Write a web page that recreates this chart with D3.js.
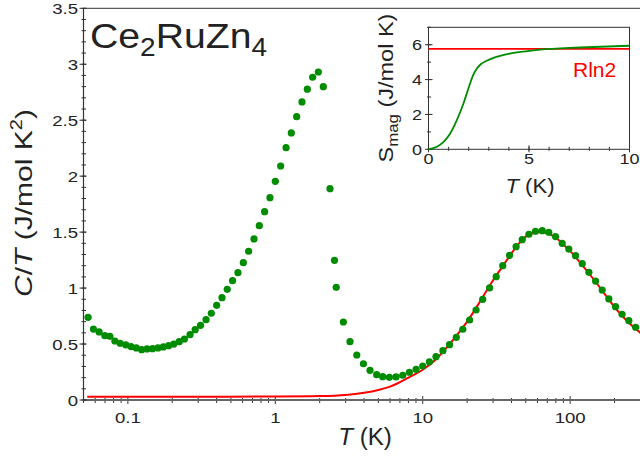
<!DOCTYPE html>
<html><head><meta charset="utf-8">
<script src="https://cdn.jsdelivr.net/npm/d3@7"></script>
<style>
html,body{margin:0;padding:0;background:#fff;}
svg{display:block;}
text{font-family:"Liberation Sans",Arial,Helvetica,sans-serif;fill:#222;}
</style></head>
<body>
<svg id="chart" width="640" height="457"></svg>
<script>
// ---- data ----
const dataT = [0.0537,0.0584,0.0638,0.0698,0.0755,0.0816,0.0887,0.0969,0.105,0.114,0.124,0.135,0.147,0.160,0.174,0.189,0.205,0.223,0.242,0.264,0.286,0.311,0.339,0.368,0.400,0.435,0.472,0.513,0.558,0.607,0.659,0.717,0.779,0.846,0.920,1.0,1.087,1.183,1.284,1.396,1.517,1.649,1.792,1.958,2.117,2.35,2.52,2.59,2.894,3.21,3.57,3.96,4.39,4.87,5.35,5.94,6.59,7.32,8.12,9.02,10.0,11.1,12.3,13.7,15.2,16.9,18.7,20.8,23.0,25.5,28.4,31.5,34.9,38.8,43.0,47.3,52.5,58.2,64.7,71.6,79.6,88.3,97.9,108.8,120.8,134,148.7,165,183,203,225,250,278];
const dataCT = [0.739,0.634,0.608,0.575,0.569,0.527,0.507,0.492,0.477,0.465,0.450,0.456,0.459,0.465,0.474,0.485,0.500,0.521,0.545,0.584,0.628,0.667,0.718,0.775,0.846,0.914,0.989,1.066,1.138,1.227,1.329,1.439,1.558,1.683,1.808,1.954,2.091,2.255,2.386,2.532,2.663,2.777,2.884,2.931,2.800,1.888,1.248,1.007,0.697,0.521,0.402,0.324,0.265,0.226,0.208,0.203,0.206,0.221,0.248,0.274,0.304,0.342,0.387,0.441,0.494,0.560,0.632,0.715,0.804,0.900,1.001,1.102,1.200,1.293,1.370,1.433,1.481,1.508,1.513,1.499,1.460,1.400,1.349,1.290,1.218,1.141,1.063,0.983,0.903,0.834,0.766,0.709,0.650];
const fitT  = [0.053,0.1,0.5,1,2,3,4,5,6,8,10,12,15,18,20,25,30,35,40,45,50,55,60,65,70,80,90,100,120,150,180,200,250,300];
const fitCT = [0.030,0.030,0.030,0.031,0.035,0.045,0.065,0.090,0.120,0.200,0.270,0.350,0.490,0.620,0.700,0.900,1.070,1.200,1.310,1.400,1.460,1.490,1.500,1.500,1.490,1.450,1.390,1.330,1.210,1.050,0.910,0.830,0.690,0.600];
const insetT = [0,0.42,0.75,1.08,1.41,1.74,1.99,2.2,2.4,2.6,2.9,3.3,3.8,4.4,5.2,6.0,7.0,8.2,10];
const insetS = [0,0.15,0.43,0.91,1.67,2.63,3.50,4.20,4.62,4.88,5.08,5.27,5.43,5.56,5.67,5.76,5.82,5.87,5.94];
const Rln2 = 5.76;
const xTickVals = [0.1,1,10,100];
const xTickLabels = ["0.1","1","10","100"];
const yTickVals = [0,0.5,1,1.5,2,2.5,3,3.5];
const yTickLabels = ["0","0.5","1","1.5","2","2.5","3","3.5"];
const insetXTicks = [0,5,10];
const insetYTicks = [0,2,4,6];

const GREEN = "#008c00", RED = "#ff0000", AX = "#333";
const svg = d3.select("#chart");
const SX = 1.2; // horizontal glyph stretch to match reference font proportions

// ---- main scales ----
const x = d3.scaleLog().domain([0.05,300]).range([83.5,640.5]);
const y = d3.scaleLinear().domain([0,3.5]).range([400,8.3]);

// top frame line
svg.append("line").attr("x1",x(0.05)).attr("x2",640).attr("y1",y(3.5)).attr("y2",y(3.5))
  .attr("stroke",AX).attr("stroke-width",1);

// x minor ticks
const xMinor = [];
for (let e=-2;e<=2;e++) for (let m=2;m<=9;m++){const v=m*Math.pow(10,e); if(v>=0.05&&v<=300) xMinor.push(v);}
const gx = svg.append("g");
gx.selectAll("line.mn").data(xMinor).join("line").attr("x1",d=>x(d)).attr("x2",d=>x(d))
  .attr("y1",y(0)-2).attr("y2",y(0)+3).attr("stroke",AX).attr("stroke-width",1);
gx.selectAll("line.mj").data(xTickVals).join("line").attr("x1",d=>x(d)).attr("x2",d=>x(d))
  .attr("y1",y(0)-4).attr("y2",y(0)+4).attr("stroke",AX).attr("stroke-width",1);
gx.append("line").attr("x1",x(0.05)).attr("x2",640).attr("y1",y(0)).attr("y2",y(0))
  .attr("stroke","#666").attr("stroke-width",2);
gx.selectAll("text").data(xTickVals).join("text")
  .attr("transform",(d)=>`translate(${x(d)},423) scale(${SX},1)`)
  .attr("text-anchor","middle").attr("font-size",15.5)
  .text((d,i)=>xTickLabels[i]);

// y ticks
const yMinor = d3.range(0,35.01,1).map(v=>v/10);
const gy = svg.append("g");
gy.append("line").attr("x1",x(0.05)).attr("x2",x(0.05)).attr("y1",y(0)).attr("y2",y(3.5))
  .attr("stroke",AX).attr("stroke-width",1.2);
gy.selectAll("line.mn").data(yMinor).join("line").attr("x1",x(0.05)-2).attr("x2",x(0.05)+2.5)
  .attr("y1",d=>y(d)).attr("y2",d=>y(d)).attr("stroke",AX).attr("stroke-width",1);
gy.selectAll("line.mj").data(yTickVals).join("line").attr("x1",x(0.05)-4).attr("x2",x(0.05)+3)
  .attr("y1",d=>y(d)).attr("y2",d=>y(d)).attr("stroke",AX).attr("stroke-width",1);
gy.selectAll("text").data(yTickVals).join("text")
  .attr("transform",d=>`translate(78,${y(d)+5.5}) scale(${SX},1)`)
  .attr("text-anchor","end").attr("font-size",15.5)
  .text((d,i)=>yTickLabels[i]);

// fit line
const line = d3.line().x((d,i)=>x(fitT[i])).y((d,i)=>y(fitCT[i])).curve(d3.curveMonotoneX);
svg.append("path").datum(fitT).attr("d",line).attr("fill","none").attr("stroke",RED).attr("stroke-width",2);

// data points
svg.append("g").selectAll("circle").data(dataT).join("circle")
  .attr("cx",d=>x(d)).attr("cy",(d,i)=>y(dataCT[i])).attr("r",3.6).attr("fill",GREEN);

// axis labels
const yl = svg.append("text").attr("transform",`translate(32,203) rotate(-90) scale(1.25,1)`)
  .attr("text-anchor","middle").attr("font-size",24);
yl.append("tspan").attr("font-style","italic").text("C");
yl.append("tspan").text("/");
yl.append("tspan").attr("font-style","italic").text("T");
yl.append("tspan").text(" (J/mol K");
yl.append("tspan").attr("font-size",16).attr("dy",-10).text("2");
yl.append("tspan").attr("dy",10).text(")");

const xl = svg.append("text").attr("transform",`translate(365,445) scale(1.05,1)`)
  .attr("text-anchor","middle").attr("font-size",23);
xl.append("tspan").attr("font-style","italic").text("T");
xl.append("tspan").text(" (K)");

// title
const tt = svg.append("text").attr("transform","translate(90,48) scale(1.12,1)").attr("font-size",35);
tt.append("tspan").text("Ce");
tt.append("tspan").attr("font-size",25).attr("dy",8).text("2");
tt.append("tspan").attr("dy",-8).text("RuZn");
tt.append("tspan").attr("font-size",25).attr("dy",8).text("4");

// ---- inset ----
const ix = d3.scaleLinear().domain([0,10]).range([428.5,629.5]);
const iy = d3.scaleLinear().domain([0,7]).range([149.3,27.3]);
const gi = svg.append("g");
gi.append("rect").attr("x",ix(0)).attr("y",iy(7)).attr("width",ix(10)-ix(0)).attr("height",iy(0)-iy(7))
  .attr("fill","#fff").attr("stroke",AX).attr("stroke-width",1);
gi.selectAll("line.xm").data(d3.range(0,11)).join("line").attr("x1",d=>ix(d)).attr("x2",d=>ix(d))
  .attr("y1",iy(0)-2.5).attr("y2",iy(0)+1.5).attr("stroke",AX);
gi.selectAll("line.xM").data(insetXTicks).join("line").attr("x1",d=>ix(d)).attr("x2",d=>ix(d))
  .attr("y1",iy(0)-4).attr("y2",iy(0)+3).attr("stroke",AX);
gi.selectAll("line.ym").data(d3.range(0,7.01,1)).join("line").attr("x1",ix(0)-1.5).attr("x2",ix(0)+2.5)
  .attr("y1",d=>iy(d)).attr("y2",d=>iy(d)).attr("stroke",AX);
gi.selectAll("line.yM").data(insetYTicks).join("line").attr("x1",ix(0)-3.5).attr("x2",ix(0)+4)
  .attr("y1",d=>iy(d)).attr("y2",d=>iy(d)).attr("stroke",AX);
gi.selectAll("text.xl").data(insetXTicks).join("text")
  .attr("transform",d=>`translate(${ix(d)},163.5) scale(${SX},1)`)
  .attr("text-anchor","middle").attr("font-size",15).text(d=>d);
gi.selectAll("text.yl").data(insetYTicks).join("text")
  .attr("transform",d=>`translate(422,${iy(d)+5.3}) scale(${SX},1)`)
  .attr("text-anchor","end").attr("font-size",15).text(d=>d);
gi.append("line").attr("x1",ix(0)).attr("x2",ix(10)).attr("y1",iy(Rln2)).attr("y2",iy(Rln2))
  .attr("stroke",RED).attr("stroke-width",1.8);
const iline = d3.line().x((d,i)=>ix(insetT[i])).y((d,i)=>iy(insetS[i])).curve(d3.curveMonotoneX);
gi.append("path").datum(insetT).attr("d",iline).attr("fill","none").attr("stroke",GREEN).attr("stroke-width",1.8);
gi.append("text").attr("transform","translate(573,77) scale(1.08,1)").attr("font-size",19.5)
  .style("fill",RED).text("Rln2");
const isl = svg.append("text").attr("transform","translate(393,88) rotate(-90) scale(1.12,1)")
  .attr("text-anchor","middle").attr("font-size",21);
isl.append("tspan").text("S");
isl.append("tspan").attr("font-size",15).attr("dy",5).text("mag");
isl.append("tspan").attr("dy",-5).text(" (J/mol K)");
const ixl = svg.append("text").attr("transform","translate(530,193) scale(1.05,1)")
  .attr("text-anchor","middle").attr("font-size",21);
ixl.append("tspan").attr("font-style","italic").text("T");
ixl.append("tspan").text(" (K)");
</script>
</body></html>
